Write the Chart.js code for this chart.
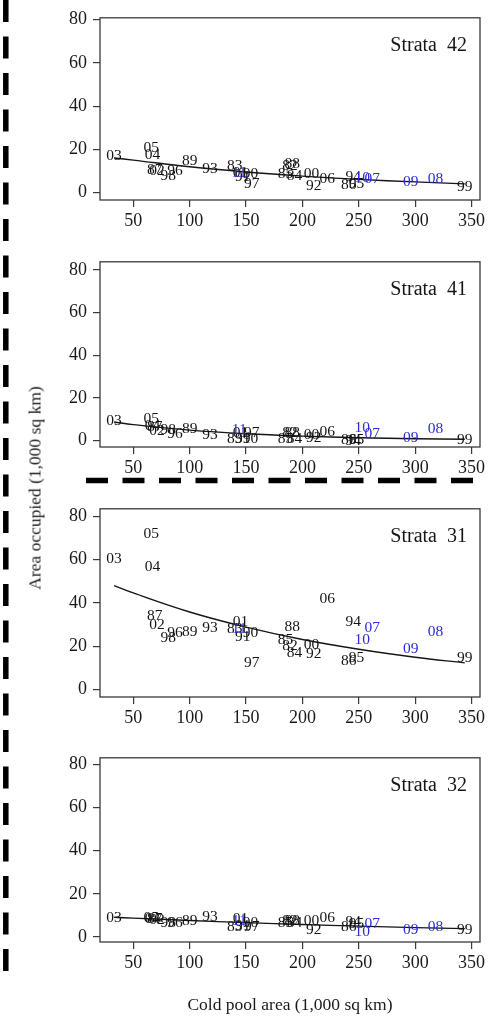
<!DOCTYPE html>
<html>
<head>
<meta charset="utf-8">
<script src="https://cdn.jsdelivr.net/npm/chart.js@4.4.1/dist/chart.umd.min.js"></script>
<style>
  body { margin: 0; background: #fff; width: 489px; height: 1018px; position: relative; overflow: hidden; font-family: "Liberation Serif", "DejaVu Serif", serif; }
  canvas { position: absolute; }
  .title { position: absolute; color: #1a1a1a; font-size: 17.5px; white-space: nowrap; }
</style>
</head>
<body>
<canvas id="deco" width="489" height="1018" style="left:0;top:0"></canvas>
<canvas id="c42"></canvas>
<canvas id="c41"></canvas>
<canvas id="c31"></canvas>
<canvas id="c32"></canvas>
<div class="title" id="ytitle">Area occupied (1,000 sq km)</div>
<div class="title" id="xtitle">Cold pool area (1,000 sq km)</div>
<script>
// survey years (labels drawn at each point)
var years = ['82','83','84','85','86','87','88','89','90','91','92','93','94','95','96','97','98','99','00','01','02','03','04','05','06','07','08','09','10','11'];
var blueYears = ['07','08','09','10','11'];

// cold pool area, 1,000 sq km (x)
var coldPool = [189,140,193,185,241,69,191,100,154,147,210,118,245,248,87,155,81,344,208,145,71,33,67,66,222,262,318,296,253,144];

// area occupied per strata (y)
var strata42 = [12.3,12.2,7.6,8.5,3.3,10.3,13.2,14.8,8.8,7.3,3.2,10.8,7.3,4.0,10.0,3.8,7.8,2.5,8.8,9.0,10.0,16.8,17.3,20.6,6.5,6.3,6.3,5.0,6.6,8.9];
var strata41 = [3.6,0.6,0.6,0.6,0.2,6.4,3.6,5.6,0.6,0.8,1.1,2.6,0.0,0.4,3.0,3.6,4.9,0.3,2.6,3.6,4.6,9.4,7.1,10.2,4.1,3.0,5.3,1.1,5.9,4.9];
var strata31 = [19.9,28.1,16.8,22.9,13.4,34.2,28.9,26.6,25.9,24.4,16.4,28.4,31.0,14.6,25.9,12.3,23.9,14.6,20.6,31.1,29.6,60.5,56.7,72.0,42.0,28.6,26.6,18.6,22.9,28.0];
var strata32 = [7.6,4.8,6.3,6.3,4.8,8.4,7.6,7.6,6.3,5.3,3.3,9.1,6.8,6.0,6.3,4.5,6.3,3.3,7.6,8.3,8.0,8.6,8.2,8.6,8.6,6.0,4.5,3.3,2.3,7.6];

// fitted curves
var fitX = [33,50,100,150,200,250,300,344];
var fit42 = [16.0,15.0,11.9,9.5,7.6,6.1,4.9,4.0];
var fit41 = [8.7,7.5,4.9,3.2,2.1,1.35,0.9,0.6];
var fit31 = [48.0,44.6,35.8,28.8,23.1,18.6,14.9,12.3];
var fit32 = [9.1,8.7,7.6,6.6,5.7,5.0,4.3,3.8];

var xTicks = [50,100,150,200,250,300,350];
var yTicks = [0,20,40,60,80];

var BLACK = '#151515', BLUE = '#2c2cd2', AXIS = '#3a3a3a';
var SERIF = '"Liberation Serif", "DejaVu Serif", serif';

// layout of each panel box (pixels) and its y range
var panels = [
  { id: 'c42', name: '42', y: strata42, fit: fit42, top: 13,  bottom: 200, ymin: -3.47, ymax: 80.9 },
  { id: 'c41', name: '41', y: strata41, fit: fit41, top: 257, bottom: 447, ymin: -3.0,  ymax: 83.8 },
  { id: 'c31', name: '31', y: strata31, fit: fit31, top: 504, bottom: 697, ymin: -3.5,  ymax: 83.5 },
  { id: 'c32', name: '32', y: strata32, fit: fit32, top: 753, bottom: 942, ymin: -2.4,  ymax: 83.2 }
];
var PAD_TOP = 12, X_AXIS_H = 40, BOX_LEFT = 100, BOX_RIGHT = 480, W = 489;

var panelPlugin = {
  id: 'panel',
  afterDatasetsDraw: function(chart) {
    var ctx = chart.ctx, a = chart.chartArea;
    var name = chart.options.plugins.panel.name;
    ctx.save();
    ctx.strokeStyle = AXIS;
    ctx.lineWidth = 1.3;
    ctx.strokeRect(a.left, a.top, a.right - a.left, a.bottom - a.top);
    // year labels at each point
    var meta = chart.getDatasetMeta(1);
    ctx.font = '15.5px ' + SERIF;
    ctx.textAlign = 'center';
    ctx.textBaseline = 'middle';
    meta.data.forEach(function(pt, i) {
      ctx.fillStyle = blueYears.indexOf(years[i]) >= 0 ? BLUE : BLACK;
      ctx.fillText(years[i], pt.x, pt.y);
    });
    ctx.fillStyle = BLACK;
    ctx.font = '20px ' + SERIF;
    ctx.textAlign = 'right';
    ctx.fillText('Strata  ' + name, a.right - 13, a.top + 28);
    ctx.restore();
  }
};

panels.forEach(function(p) {
  var cv = document.getElementById(p.id);
  var h = (p.bottom - p.top) + PAD_TOP + X_AXIS_H;
  cv.width = W;
  cv.height = h;
  cv.style.left = '0px';
  cv.style.top = (p.top - PAD_TOP) + 'px';

  var pts = coldPool.map(function(x, i) { return { x: x, y: p.y[i] }; });
  var line = fitX.map(function(x, i) { return { x: x, y: p.fit[i] }; });

  new Chart(cv.getContext('2d'), {
    type: 'scatter',
    data: {
      datasets: [
        { type: 'line', data: line, borderColor: BLACK, borderWidth: 1.4, pointRadius: 0, tension: 0.4, fill: false },
        { data: pts, pointRadius: 0, pointHoverRadius: 0, backgroundColor: 'rgba(0,0,0,0)' }
      ]
    },
    options: {
      responsive: false,
      animation: false,
      events: [],
      layout: { padding: { top: PAD_TOP, right: W - BOX_RIGHT, left: 0, bottom: 0 } },
      plugins: { legend: { display: false }, tooltip: { enabled: false }, panel: { name: p.name } },
      scales: {
        x: {
          type: 'linear', position: 'bottom', min: 20.5, max: 357.5,
          afterBuildTicks: function(s) { s.ticks = xTicks.map(function(v) { return { value: v }; }); },
          afterFit: function(s) { s.height = X_AXIS_H; },
          grid: { drawOnChartArea: false, drawTicks: true, tickLength: 7, color: AXIS, lineWidth: 1.2 },
          border: { display: false },
          ticks: { color: '#1a1a1a', padding: 3, maxRotation: 0, autoSkip: false, font: { family: SERIF, size: 18 } }
        },
        y: {
          type: 'linear', position: 'left', min: p.ymin, max: p.ymax,
          afterBuildTicks: function(s) { s.ticks = yTicks.map(function(v) { return { value: v }; }); },
          afterFit: function(s) { s.width = BOX_LEFT; },
          grid: { drawOnChartArea: false, drawTicks: true, tickLength: 7, color: AXIS, lineWidth: 1.2 },
          border: { display: false },
          ticks: { color: '#1a1a1a', padding: 6, autoSkip: false, font: { family: SERIF, size: 18 } }
        }
      }
    },
    plugins: [panelPlugin]
  });
});

// dashed frame lines
var dctx = document.getElementById('deco').getContext('2d');
dctx.strokeStyle = '#000';
dctx.lineWidth = 5.5;
dctx.setLineDash([22, 14.5]);
dctx.beginPath();
dctx.moveTo(5.8, 0);
dctx.lineTo(5.8, 985);
dctx.stroke();
dctx.beginPath();
dctx.moveTo(86, 480.5);
dctx.lineTo(481, 480.5);
dctx.stroke();

// axis titles
var yt = document.getElementById('ytitle');
yt.style.left = '35px';
yt.style.top = '488px';
yt.style.transform = 'translate(-50%, -50%) rotate(-90deg)';
var xt = document.getElementById('xtitle');
xt.style.left = '290px';
xt.style.top = '1004px';
xt.style.transform = 'translate(-50%, -50%)';
</script>
</body>
</html>
